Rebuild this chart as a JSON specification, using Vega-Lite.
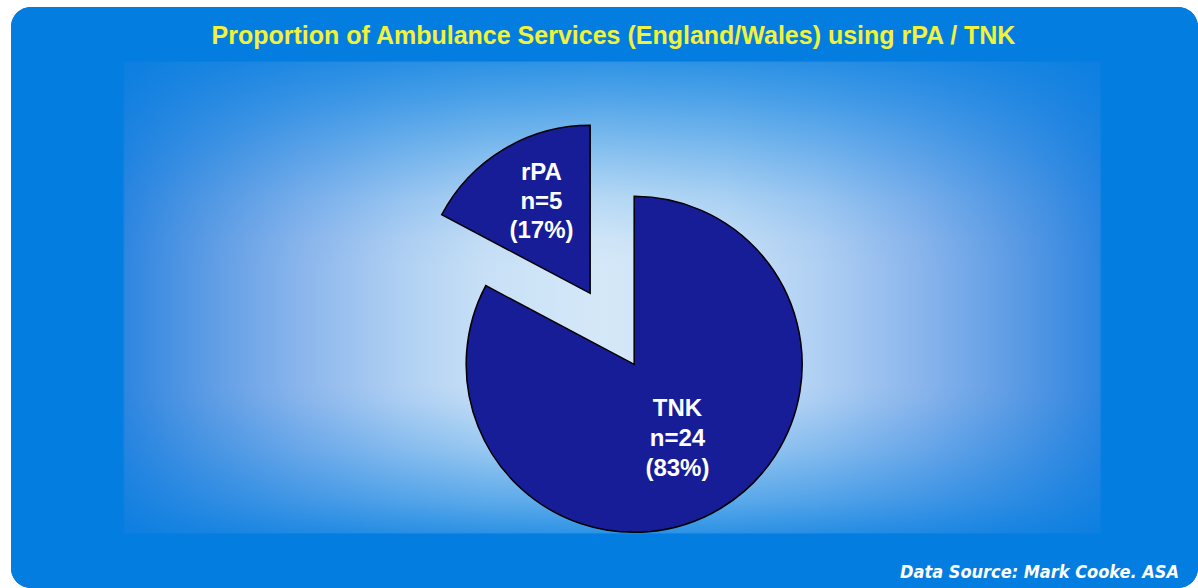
{
  "$schema": "https://vega.github.io/schema/vega-lite/v6.json",
  "width": 1187,
  "height": 581,
  "autosize": {"type": "none"},
  "padding": {"left": 11, "top": 7, "right": 0, "bottom": 0},
  "background": "white",
  "view": {
    "cornerRadius": 20,
    "stroke": null,
    "fill": {
      "gradient": "linear",
      "x1": 0, "y1": 0, "x2": 1, "y2": 0,
      "stops": [
        {"offset": 0, "color": "#037de0"},
        {"offset": 0.094, "color": "#037de0"},
        {"offset": 0.096, "color": "#2f86e0"},
        {"offset": 0.16, "color": "#5a9ae4"},
        {"offset": 0.243, "color": "#8ab5ec"},
        {"offset": 0.33, "color": "#b0d0f3"},
        {"offset": 0.4, "color": "#c8e0f6"},
        {"offset": 0.5, "color": "#d5e8f8"},
        {"offset": 0.6, "color": "#c8e0f6"},
        {"offset": 0.68, "color": "#b0d0f3"},
        {"offset": 0.766, "color": "#8ab5ec"},
        {"offset": 0.85, "color": "#5a9ae4"},
        {"offset": 0.917, "color": "#2f86e0"},
        {"offset": 0.919, "color": "#037de0"},
        {"offset": 1, "color": "#037de0"}
      ]
    }
  },
  "title": {
    "text": "Proportion of Ambulance Services (England/Wales) using rPA / TNK",
    "color": "#f2f23c",
    "font": "Liberation Sans",
    "fontWeight": "bold",
    "fontSize": 25,
    "anchor": "middle",
    "baseline": "bottom",
    "offset": -67,
    "dx": 9
  },
  "data": {
    "values": [
      {"category": "TNK", "n": 24, "label": "TNK\nn=24\n(83%)"},
      {"category": "rPA", "n": 5, "label": "rPA\nn=5\n(17%)"}
    ]
  },
  "layer": [
    {
      "data": {"values": [{"panel": "glow"}]},
      "mark": {
        "type": "rect",
        "x": 0, "x2": {"expr": "width"}, "y": 0, "y2": {"expr": "height"},
        "cornerRadius": 20,
        "fill": {
          "gradient": "linear",
          "x1": 0, "y1": 0, "x2": 0, "y2": 1,
          "stops": [
            {"offset": 0, "color": "rgba(3,125,224,1)"},
            {"offset": 0.093, "color": "rgba(3,125,224,1)"},
            {"offset": 0.095, "color": "rgba(3,125,224,0.79)"},
            {"offset": 0.16, "color": "rgba(3,125,224,0.62)"},
            {"offset": 0.21, "color": "rgba(3,125,224,0.48)"},
            {"offset": 0.263, "color": "rgba(3,125,224,0.33)"},
            {"offset": 0.33, "color": "rgba(3,125,224,0.15)"},
            {"offset": 0.4, "color": "rgba(3,125,224,0.03)"},
            {"offset": 0.45, "color": "rgba(3,125,224,0)"},
            {"offset": 0.65, "color": "rgba(3,125,224,0)"},
            {"offset": 0.68, "color": "rgba(3,125,224,0.04)"},
            {"offset": 0.762, "color": "rgba(3,125,224,0.25)"},
            {"offset": 0.85, "color": "rgba(3,125,224,0.55)"},
            {"offset": 0.905, "color": "rgba(3,125,224,0.79)"},
            {"offset": 0.907, "color": "rgba(3,125,224,1)"},
            {"offset": 1, "color": "rgba(3,125,224,1)"}
          ]
        }
      },
      "encoding": {}
    },
    {
      "mark": {"type": "arc", "radius": 168, "x": {"expr": "width*0.525"}, "y": {"expr": "height*0.615"}, "fill": "#171c97", "stroke": "#000000", "strokeWidth": 1.5},
      "encoding": {
        "theta": {"field": "n", "type": "quantitative", "stack": true},
        "detail": {"field": "category", "type": "nominal"},
        "order": {"field": "category", "sort": "ascending"},
        "opacity": {"condition": {"test": "datum.category === 'TNK'", "value": 1}, "value": 0}
      }
    },
    {
      "mark": {"type": "arc", "radius": 168, "x": {"expr": "width*0.525"}, "y": {"expr": "height*0.615"}, "xOffset": -44, "yOffset": -71, "fill": "#171c97", "stroke": "#000000", "strokeWidth": 1.5},
      "encoding": {
        "theta": {"field": "n", "type": "quantitative", "stack": true},
        "detail": {"field": "category", "type": "nominal"},
        "order": {"field": "category", "sort": "ascending"},
        "opacity": {"condition": {"test": "datum.category === 'rPA'", "value": 1}, "value": 0}
      }
    },
    {
      "mark": {"type": "text", "radius": 80, "x": {"expr": "width*0.525"}, "y": {"expr": "height*0.615"}, "dx": 2, "dy": -24, "lineBreak": "\n", "lineHeight": 30, "font": "Liberation Sans", "fontWeight": "bold", "fontSize": 24, "fill": "white", "align": "center", "baseline": "middle"},
      "encoding": {
        "theta": {"field": "n", "type": "quantitative", "stack": true},
        "detail": {"field": "category", "type": "nominal"},
        "order": {"field": "category", "sort": "ascending"},
        "text": {"field": "label", "type": "nominal"},
        "opacity": {"condition": {"test": "datum.category === 'TNK'", "value": 1}, "value": 0}
      }
    },
    {
      "mark": {"type": "text", "radius": 110, "x": {"expr": "width*0.525"}, "y": {"expr": "height*0.615"}, "xOffset": -44, "yOffset": -71, "dx": 8, "dy": -26, "lineBreak": "\n", "lineHeight": 29, "font": "Liberation Sans", "fontWeight": "bold", "fontSize": 24, "fill": "white", "align": "center", "baseline": "middle"},
      "encoding": {
        "theta": {"field": "n", "type": "quantitative", "stack": true},
        "detail": {"field": "category", "type": "nominal"},
        "order": {"field": "category", "sort": "ascending"},
        "text": {"field": "label", "type": "nominal"},
        "opacity": {"condition": {"test": "datum.category === 'rPA'", "value": 1}, "value": 0}
      }
    },
    {
      "data": {"values": [{"source": "Data Source: Mark Cooke. ASA"}]},
      "mark": {"type": "text", "x": {"expr": "width*0.749"}, "y": {"expr": "height-10"}, "align": "left", "baseline": "alphabetic", "font": "'DejaVu Sans Condensed', 'DejaVu Sans'", "fontWeight": "bold", "fontStyle": "italic", "fontSize": 18, "fill": "white"},
      "encoding": {
        "text": {"field": "source", "type": "nominal"}
      }
    }
  ]
}
